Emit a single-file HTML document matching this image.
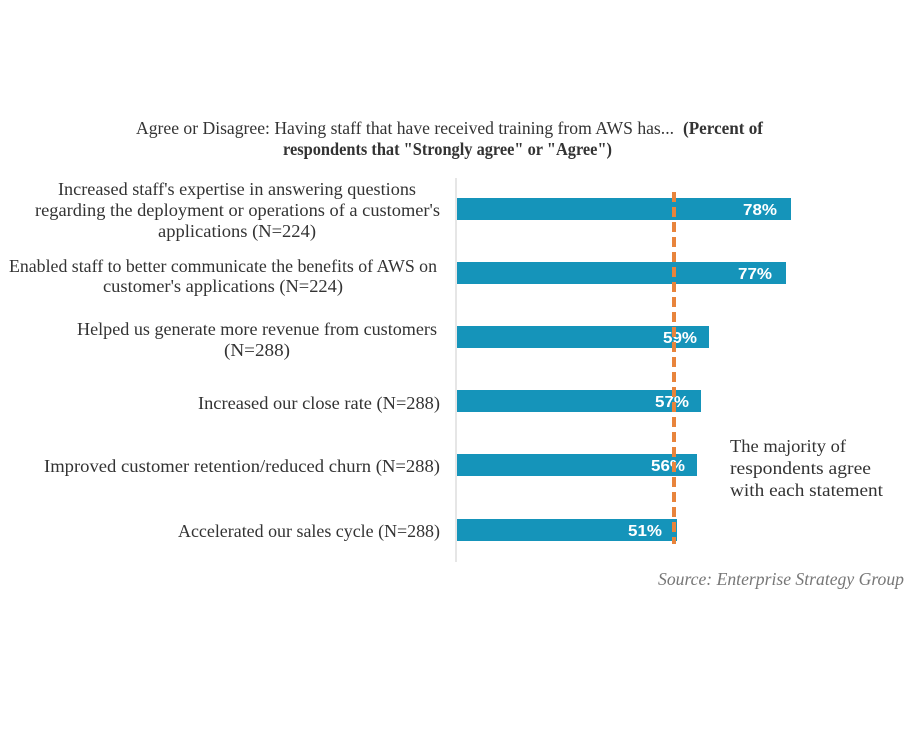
<!DOCTYPE html>
<html><head><meta charset="utf-8"><style>
html,body{margin:0;padding:0;background:#fff;}
svg{display:block;}
</style></head><body>
<svg width="913" height="743" viewBox="0 0 913 743" xmlns="http://www.w3.org/2000/svg">
<g font-family="Liberation Serif, serif" fill="#333" font-size="17.5" lengthAdjust="spacingAndGlyphs">
<text x="136" y="134" textLength="538" lengthAdjust="spacingAndGlyphs">Agree or Disagree: Having staff that have received training from AWS has...</text>
<text x="683" y="134" textLength="80" lengthAdjust="spacingAndGlyphs" font-weight="bold">(Percent of</text>
<text x="283" y="155" textLength="329" lengthAdjust="spacingAndGlyphs" font-weight="bold">respondents that "Strongly agree" or "Agree")</text>

<text x="58" y="195" textLength="358" lengthAdjust="spacingAndGlyphs">Increased staff's expertise in answering questions</text>
<text x="35" y="216" textLength="405" lengthAdjust="spacingAndGlyphs">regarding the deployment or operations of a customer's</text>
<text x="158" y="237" textLength="158" lengthAdjust="spacingAndGlyphs">applications (N=224)</text>
<text x="9" y="272" textLength="428" lengthAdjust="spacingAndGlyphs">Enabled staff to better communicate the benefits of AWS on</text>
<text x="103" y="292" textLength="240" lengthAdjust="spacingAndGlyphs">customer's applications (N=224)</text>
<text x="77" y="335" textLength="360" lengthAdjust="spacingAndGlyphs">Helped us generate more revenue from customers</text>
<text x="224" y="356" textLength="66" lengthAdjust="spacingAndGlyphs">(N=288)</text>
<text x="198" y="409" textLength="242" lengthAdjust="spacingAndGlyphs">Increased our close rate (N=288)</text>
<text x="44" y="472" textLength="396" lengthAdjust="spacingAndGlyphs">Improved customer retention/reduced churn (N=288)</text>
<text x="178" y="537" textLength="262" lengthAdjust="spacingAndGlyphs">Accelerated our sales cycle (N=288)</text>

<text x="730" y="452" textLength="116" lengthAdjust="spacingAndGlyphs">The majority of</text>
<text x="730" y="474" textLength="141" lengthAdjust="spacingAndGlyphs">respondents agree</text>
<text x="730" y="496" textLength="153" lengthAdjust="spacingAndGlyphs">with each statement</text>
<text x="658" y="585" textLength="246" lengthAdjust="spacingAndGlyphs" font-style="italic" fill="#777">Source: Enterprise Strategy Group</text>
</g>
<line x1="456" y1="178" x2="456" y2="562" stroke="#ddd" stroke-width="1.5"/>
<g fill="#1594BA">
<rect x="457" y="198" width="334" height="22"/>
<rect x="457" y="262" width="329" height="22"/>
<rect x="457" y="326" width="252" height="22"/>
<rect x="457" y="390" width="244" height="22"/>
<rect x="457" y="454" width="240" height="22"/>
<rect x="457" y="519" width="220" height="22"/>
</g>
<g font-family="Liberation Sans, sans-serif" font-weight="bold" font-size="16" fill="#fff">
<text x="743" y="215" textLength="34" lengthAdjust="spacingAndGlyphs">78%</text>
<text x="738" y="279" textLength="34" lengthAdjust="spacingAndGlyphs">77%</text>
<text x="663" y="343" textLength="34" lengthAdjust="spacingAndGlyphs">59%</text>
<text x="655" y="407" textLength="34" lengthAdjust="spacingAndGlyphs">57%</text>
<text x="651" y="471" textLength="34" lengthAdjust="spacingAndGlyphs">56%</text>
<text x="628" y="536" textLength="34" lengthAdjust="spacingAndGlyphs">51%</text>
</g>
<line x1="674" y1="192" x2="674" y2="544" stroke="#E8843C" stroke-width="4" stroke-dasharray="10,5"/>
</svg>
</body></html>
